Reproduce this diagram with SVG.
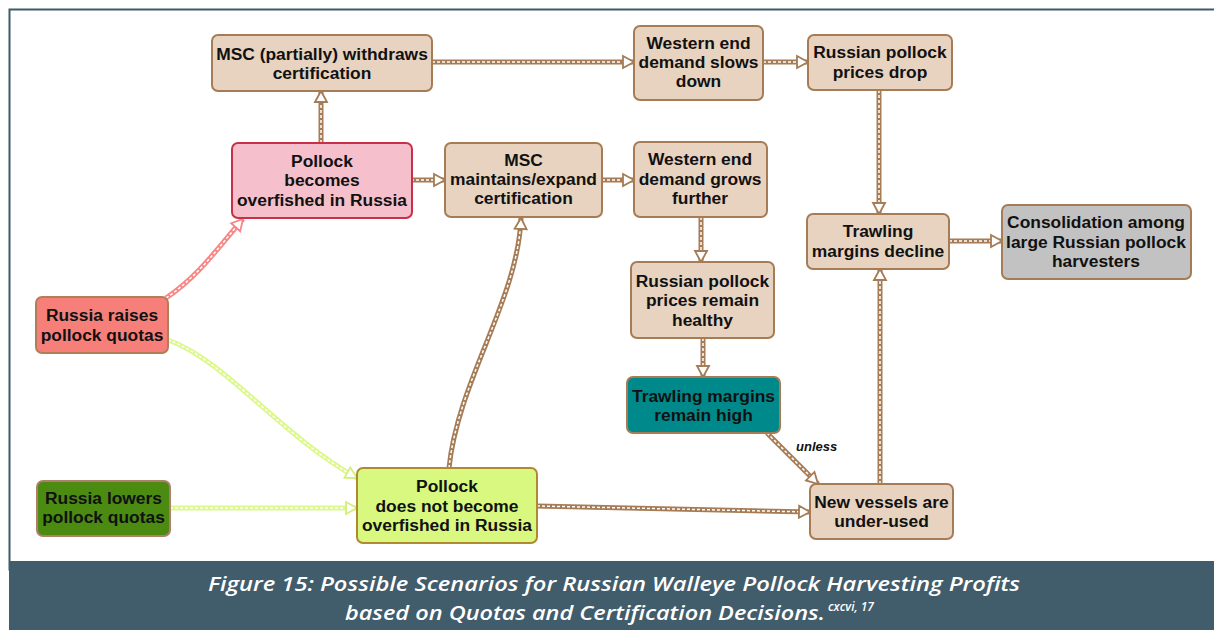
<svg xmlns="http://www.w3.org/2000/svg" width="1214" height="630" viewBox="0 0 1214 630">
<style>
.n{stroke:#a57c55;stroke-width:2}
.b{fill:#e8d3c0}
.t{font-family:"Liberation Sans",Arial,sans-serif;font-weight:bold;font-size:17.4px;fill:#111;text-anchor:middle}
.o{fill:none;stroke:#a57c55;stroke-width:5}
.i{fill:none;stroke:#fff;stroke-width:1.5;stroke-dasharray:3 2}
.op{fill:none;stroke:#f98585;stroke-width:5}
.og{fill:none;stroke:#dcf88c;stroke-width:5}
.cap{font-family:"Open Sans",sans-serif;font-style:italic;font-weight:600;font-size:20px;fill:#fff}
</style>
<defs>
<marker id="a" markerUnits="userSpaceOnUse" markerWidth="14" markerHeight="14" refX="11" refY="6" orient="auto" overflow="visible">
<path d="M0,0 L11,6 L0,12 Z" fill="#fff" stroke="#a57c55" stroke-width="1.8"/>
</marker>
<marker id="ap" markerUnits="userSpaceOnUse" markerWidth="14" markerHeight="14" refX="11" refY="6" orient="auto" overflow="visible">
<path d="M0,0 L11,6 L0,12 Z" fill="#fff" stroke="#f98585" stroke-width="1.8"/>
</marker>
<marker id="ag" markerUnits="userSpaceOnUse" markerWidth="14" markerHeight="14" refX="11" refY="6" orient="auto" overflow="visible">
<path d="M0,0 L11,6 L0,12 Z" fill="#fff" stroke="#d2f07c" stroke-width="1.8"/>
</marker>
</defs>
<rect x="0" y="0" width="1214" height="630" fill="#fff"/>
<rect x="9.5" y="9.5" width="1212" height="560" fill="#fff" stroke="#3f5a6b" stroke-width="2"/>
<rect x="9" y="561" width="1205" height="69" fill="#415c6b"/>
<text class="cap" x="208" y="591" textLength="812" lengthAdjust="spacingAndGlyphs">Figure 15: Possible Scenarios for Russian Walleye Pollock Harvesting Profits</text>
<text class="cap" x="345" y="620"><tspan textLength="480" lengthAdjust="spacingAndGlyphs">based on Quotas and Certification Decisions.</tspan><tspan font-size="12" dx="3" dy="-9">cxcvi, 17</tspan></text>

<g id="connectors">
<path class="o" d="M321,143 V91"/><path class="i" d="M321,143 V91" marker-end="url(#a)"/>
<path class="o" d="M432,62 H634"/><path class="i" d="M432,62 H634" marker-end="url(#a)"/>
<path class="o" d="M763,62 H808"/><path class="i" d="M763,62 H808" marker-end="url(#a)"/>
<path class="o" d="M879,90 V214"/><path class="i" d="M879,90 V214" marker-end="url(#a)"/>
<path class="o" d="M949,241 H1002"/><path class="i" d="M949,241 H1002" marker-end="url(#a)"/>
<path class="o" d="M411,180 H445"/><path class="i" d="M411,180 H445" marker-end="url(#a)"/>
<path class="o" d="M602,180 H634"/><path class="i" d="M602,180 H634" marker-end="url(#a)"/>
<path class="o" d="M701,217 V262"/><path class="i" d="M701,217 V262" marker-end="url(#a)"/>
<path class="o" d="M703,338 V377"/><path class="i" d="M703,338 V377" marker-end="url(#a)"/>
<path class="o" d="M767,433 L818,484"/><path class="i" d="M767,433 L818,484" marker-end="url(#a)"/>
<path class="o" d="M880,484 V269"/><path class="i" d="M880,484 V269" marker-end="url(#a)"/>
<path class="o" d="M537,506 L810,512"/><path class="i" d="M537,506 L810,512" marker-end="url(#a)"/>
<path class="o" d="M449,468 C458,380 518,300 521,218"/><path class="i" d="M449,468 C458,380 518,300 521,218" marker-end="url(#a)"/>
<path class="op" d="M166,298 C200,275 220,245 243,219"/><path class="i" d="M166,298 C200,275 220,245 243,219" marker-end="url(#ap)"/>
<path class="og" d="M168,340 C225,360 280,435 357,478"/><path class="i" d="M168,340 C225,360 280,435 357,478" marker-end="url(#ag)"/>
<path class="og" d="M170,508 H357"/><path class="i" d="M170,508 H357" marker-end="url(#ag)"/>
<text x="796" y="451" font-family="Liberation Sans,Arial,sans-serif" font-weight="bold" font-style="italic" font-size="13" fill="#111">unless</text>
</g>

<g id="n1"><rect class="n b" x="212" y="35" width="220" height="56" rx="6"/><text class="t" x="322" y="60">MSC (partially) withdraws</text><text class="t" x="322" y="79">certification</text></g>
<g id="n2"><rect x="232" y="143" width="180" height="75" rx="6" fill="#f5c0cb" stroke="#c8304a" stroke-width="2"/><text class="t" x="322" y="167">Pollock</text><text class="t" x="322" y="186">becomes</text><text class="t" x="322" y="206">overfished in Russia</text></g>
<g id="n3"><rect class="n b" x="445" y="143" width="157" height="74" rx="6"/><text class="t" x="523.5" y="166">MSC</text><text class="t" x="523.5" y="185">maintains/expand</text><text class="t" x="523.5" y="204">certification</text></g>
<g id="n4"><rect class="n b" x="634" y="26" width="129" height="74" rx="6"/><text class="t" x="698.5" y="49">Western end</text><text class="t" x="698.5" y="68">demand slows</text><text class="t" x="698.5" y="87">down</text></g>
<g id="n5"><rect class="n b" x="634" y="142" width="133" height="75" rx="6"/><text class="t" x="700" y="165">Western end</text><text class="t" x="700" y="185">demand grows</text><text class="t" x="700" y="204">further</text></g>
<g id="n6"><rect class="n b" x="808" y="35" width="144" height="55" rx="6"/><text class="t" x="880" y="58">Russian pollock</text><text class="t" x="880" y="78">prices drop</text></g>
<g id="n7"><rect class="n b" x="807" y="214" width="142" height="55" rx="6"/><text class="t" x="878" y="237">Trawling</text><text class="t" x="878" y="257">margins decline</text></g>
<g id="n8"><rect class="n" x="1002" y="205" width="189" height="74" rx="6" fill="#c2c2c2"/><text class="t" x="1096" y="228">Consolidation among</text><text class="t" x="1096" y="248">large Russian pollock</text><text class="t" x="1096" y="267">harvesters</text></g>
<g id="n9"><rect x="36" y="297" width="132" height="56" rx="6" fill="#f77f7a" stroke="#b07f5a" stroke-width="2"/><text class="t" x="102" y="321">Russia raises</text><text class="t" x="102" y="341">pollock quotas</text></g>
<g id="n10"><rect x="37" y="481" width="133" height="55" rx="6" fill="#4b8b12" stroke="#b07f6a" stroke-width="2"/><text class="t" x="103.5" y="504">Russia lowers</text><text class="t" x="103.5" y="523">pollock quotas</text></g>
<g id="n11"><rect x="357" y="468" width="180" height="75" rx="6" fill="#d8f880" stroke="#b08a30" stroke-width="2"/><text class="t" x="447" y="492">Pollock</text><text class="t" x="447" y="512">does not become</text><text class="t" x="447" y="531">overfished in Russia</text></g>
<g id="n12"><rect class="n b" x="631" y="262" width="143" height="76" rx="6"/><text class="t" x="702.5" y="287">Russian pollock</text><text class="t" x="702.5" y="306">prices remain</text><text class="t" x="702.5" y="326">healthy</text></g>
<g id="n13"><rect class="n" x="627" y="377" width="153" height="56" rx="6" fill="#00898a"/><text class="t" x="703.5" y="402">Trawling margins</text><text class="t" x="703.5" y="421">remain high</text></g>
<g id="n14"><rect class="n b" x="810" y="484" width="143" height="55" rx="6"/><text class="t" x="881.5" y="508">New vessels are</text><text class="t" x="881.5" y="527">under-used</text></g>
</svg>
